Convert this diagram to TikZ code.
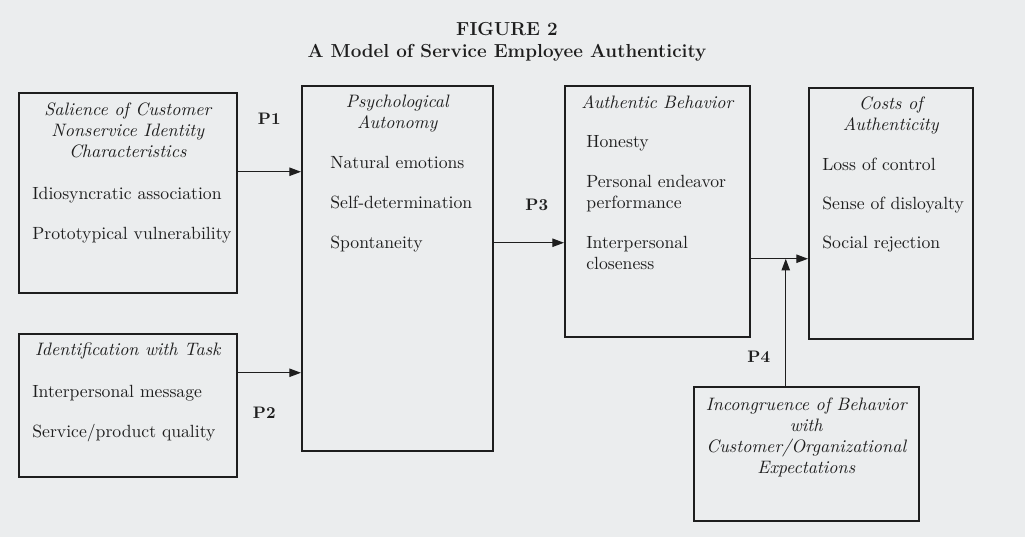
\documentclass[tikz,border=0pt]{standalone}
\usepackage{tikz}
\usetikzlibrary{arrows.meta,positioning,calc}
\definecolor{paper}{HTML}{EBEDEE}
\definecolor{ink}{HTML}{1E1E1E}

\begin{document}
\begin{tikzpicture}[
    x=0.6pt, y=-0.6pt,
    box/.style={rectangle, draw=ink, line width=0.9pt, anchor=north west, inner sep=0pt},
    boxtitle/.style={inner sep=0pt, align=center, font=\fontsize{10.8}{12.6}\selectfont\itshape, text=ink, anchor=north},
    itemlist/.style={inner sep=0pt, align=left, font=\fontsize{10.6}{12.6}\selectfont, text=ink, anchor=north west},
    plabel/.style={inner sep=0pt, font=\fontsize{10}{12}\selectfont\bfseries, text=ink},
    arrow/.style={-{Triangle[length=7pt,width=5pt]}, draw=ink, line width=0.75pt}
]
\fill[paper] (0,0) rectangle (1025,537);
\node[font=\fontsize{11.3}{13.2}\selectfont\bfseries, align=center, text=ink, inner sep=0pt] (fig) at (507,42) {FIGURE 2\\A Model of Service Employee Authenticity};

% boxes
\node[box, minimum width=130.8pt, minimum height=120pt] (sal) at (18,92) {};
\node[box, minimum width=130.8pt, minimum height=85.8pt] (ident) at (18,333) {};
\node[box, minimum width=114.6pt, minimum height=219pt] (psy) at (301,85) {};
\node[box, minimum width=111pt, minimum height=150.6pt] (auth) at (564,85) {};
\node[box, minimum width=98.4pt, minimum height=150.6pt] (cost) at (808,87) {};
\node[box, minimum width=135pt, minimum height=80.4pt] (incong) at (693,386) {};

% box contents
\node[boxtitle, below=6.4pt of sal.north] (salT) {Salience of Customer\\Nonservice Identity\\Characteristics};
\node[itemlist] (salL) at ([xshift=8.4pt, yshift=-57pt]sal.north west) {Idiosyncratic association\\[11.4pt]Prototypical vulnerability};
\node[boxtitle, below=5.8pt of ident.north] (identT) {Identification with Task};
\node[itemlist] (identL) at ([xshift=8.4pt, yshift=-31.2pt]ident.north west) {Interpersonal message\\[11.4pt]Service/product quality};
\node[boxtitle, below=5.8pt of psy.north] (psyT) {Psychological\\Autonomy};
\node[itemlist] (psyL) at ([xshift=17.4pt, yshift=-42.6pt]psy.north west) {Natural emotions\\[11.4pt]Self-determination\\[11.4pt]Spontaneity};
\node[boxtitle, below=6.4pt of auth.north] (authT) {Authentic Behavior};
\node[itemlist] (authL) at ([xshift=13.2pt, yshift=-30pt]auth.north west) {Honesty\\[11.4pt]Personal endeavor\\performance\\[11.4pt]Interpersonal\\closeness};
\node[boxtitle, below=5.8pt of cost.north] (costT) {Costs of\\Authenticity};
\node[itemlist] (costL) at ([xshift=8.4pt, yshift=-42.6pt]cost.north west) {Loss of control\\[10.8pt]Sense of disloyalty\\[10.8pt]Social rejection};
\node[boxtitle, below=7pt of incong.north] (incongT) {Incongruence of Behavior\\with\\Customer/Organizational\\Expectations};

% connectors
\coordinate (p1) at ([yshift=12.6pt]sal.east);
\draw[arrow] (p1) -- node[plabel, above=28pt] {P1} (p1 -| psy.west);
\coordinate (p2) at ([yshift=19.5pt]ident.east);
\draw[arrow] (p2) -- node[plabel, below=20pt, xshift=-3pt] {P2} (p2 -| psy.west);
\coordinate (p3) at ([yshift=15.3pt]psy.east);
\draw[arrow] (p3) -- node[plabel, above=18.6pt, xshift=4.8pt] {P3} (p3 -| auth.west);
\coordinate (p5) at ([yshift=-28.5pt]auth.east);
\draw[arrow] (p5) -- (p5 -| cost.west);
\coordinate (p4) at ([xshift=-12.3pt]incong.north);
\draw[arrow] (p4) -- node[plabel, left=9pt, pos=0.23] {P4} (p4 |- p5);
\end{tikzpicture}
\end{document}
